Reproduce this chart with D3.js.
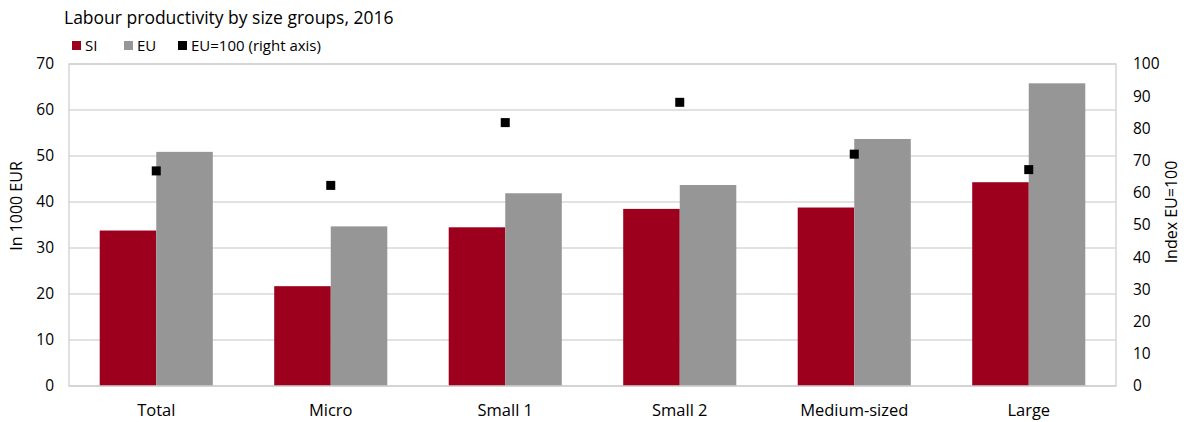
<!DOCTYPE html>
<html><head><meta charset="utf-8">
<script src="https://cdn.jsdelivr.net/npm/d3@7"></script>
<style>body{margin:0;background:#fff;} text{font-family:"Open Sans",sans-serif;fill:#000;}</style>
</head><body>
<svg id="c" width="1190" height="422"></svg>
<script>
const categories = ["Total","Micro","Small 1","Small 2","Medium-sized","Large"];
const siValues = [33.8, 21.7, 34.5, 38.5, 38.8, 44.3];
const euValues = [50.9, 34.7, 41.9, 43.7, 53.7, 65.8];
const indexValues = [66.8, 62.3, 81.8, 88.1, 72.0, 67.2];
const leftTicks = [0,10,20,30,40,50,60,70];
const rightTicks = [0,10,20,30,40,50,60,70,80,90,100];
const seriesNames = ["SI","EU","EU=100 (right axis)"];
const colors = ["#9c001d","#969696","#000000"];

const svg = d3.select("#c");
const m = {l:69, r:1116, t:64, b:386};
const x = d3.scaleBand().domain(categories).range([m.l, m.r]).padding(0);
const y = d3.scaleLinear().domain([0,70]).range([m.b, m.t]);
const y2 = d3.scaleLinear().domain([0,100]).range([m.b, m.t]);
const barW = x.bandwidth()*0.324;

// gridlines
svg.append("g").selectAll("line").data(leftTicks.slice(1)).join("line")
  .attr("x1", m.l).attr("x2", m.r).attr("y1", d=>y(d)).attr("y2", d=>y(d))
  .attr("stroke","#d9d9d9").attr("stroke-width",1.3);
// plot border
svg.append("rect").attr("x",m.l).attr("y",m.t).attr("width",m.r-m.l).attr("height",m.b-m.t)
  .attr("fill","none").attr("stroke","#d0d0d0").attr("stroke-width",1.3);

// bars
const g = svg.append("g");
g.selectAll(".si").data(categories).join("rect")
  .attr("x", d=>x(d)+x.bandwidth()/2-barW).attr("width", barW)
  .attr("y", (d,i)=>y(siValues[i])).attr("height",(d,i)=>y(0)-y(siValues[i]))
  .attr("fill", colors[0]);
g.selectAll(".eu").data(categories).join("rect")
  .attr("x", d=>x(d)+x.bandwidth()/2).attr("width", barW)
  .attr("y", (d,i)=>y(euValues[i])).attr("height",(d,i)=>y(0)-y(euValues[i]))
  .attr("fill", colors[1]);
// baseline
svg.append("line").attr("x1",m.l).attr("x2",m.r).attr("y1",m.b).attr("y2",m.b).attr("stroke","#d0d0d0").attr("stroke-width",1.5);
// markers
g.selectAll(".mk").data(categories).join("rect")
  .attr("x", d=>x(d)+x.bandwidth()/2-4.5).attr("width",9)
  .attr("y",(d,i)=>y2(indexValues[i])-4.5).attr("height",9).attr("fill",colors[2]);

// left axis
const la = svg.append("g").attr("transform",`translate(${m.l},0)`)
  .call(d3.axisLeft(y).tickValues(leftTicks).tickSize(0).tickPadding(15));
la.select(".domain").remove();
la.selectAll("text").style("font-size","15.5px").style("font-family","Open Sans");
// right axis
const ra = svg.append("g").attr("transform",`translate(${m.r},0)`)
  .call(d3.axisRight(y2).tickValues(rightTicks).tickSize(0).tickPadding(17));
ra.select(".domain").remove();
ra.selectAll("text").style("font-size","15.5px").style("font-family","Open Sans");
// x axis
const xa = svg.append("g").attr("transform",`translate(0,${m.b})`)
  .call(d3.axisBottom(x).tickSize(0).tickPadding(18));
xa.select(".domain").remove();
xa.selectAll("text").style("font-size","16.5px").style("font-family","Open Sans");

// axis titles
svg.append("text").attr("transform","translate(22,206) rotate(-90)").attr("text-anchor","middle")
  .style("font-size","16px").text("In 1000 EUR");
svg.append("text").attr("transform","translate(1177,212) rotate(-90)").attr("text-anchor","middle")
  .style("font-size","16px").text("Index EU=100");

// title
svg.append("text").attr("x",64).attr("y",24).style("font-size","17.5px").text("Labour productivity by size groups, 2016");

// legend
const lx = [72, 124, 178];
const lg = svg.append("g");
seriesNames.forEach((s,i)=>{
  lg.append("rect").attr("x",lx[i]).attr("y",41).attr("width",9).attr("height",9).attr("fill",colors[i]);
  lg.append("text").attr("x",lx[i]+13).attr("y",51).style("font-size","15px").text(s);
});
</script>
</body></html>
